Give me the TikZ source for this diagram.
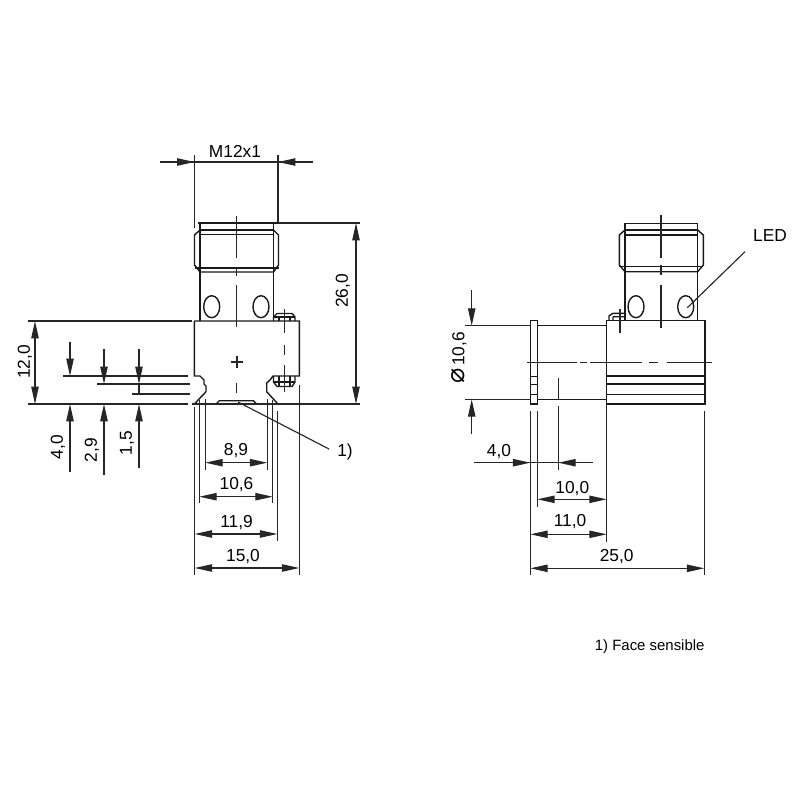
\documentclass[tikz,border=0pt]{standalone}
\usepackage{fontspec}
\setmainfont{Liberation Sans}
\newfontfamily\symfont{DejaVu Sans}
\usetikzlibrary{arrows.meta}
\tikzset{
  body/.style={line width=1.05pt,draw=black!90},
  thin/.style={line width=0.85pt,draw=black!85},
  dimline/.style={thin,{Triangle[length=13pt,width=5.5pt]}-{Triangle[length=13pt,width=5.5pt]}},
  tip/.style={thin,-{Triangle[length=13pt,width=5.5pt]}},
  lbl/.style={inner sep=0pt,text=black,font=\fontsize{13}{15}\selectfont},
}

\begin{document}
\begin{tikzpicture}[x=0.75pt,y=-0.75pt]
\useasboundingbox (0,0) rectangle (800,800);

% left view
\draw[body] (198,223) -- (278,223);
\draw[body] (200,223) -- (200,230) (273.5,223) -- (273.5,230);
\draw[body] (200,230) -- (273.5,230) (200,234.5) -- (273.5,234.5);
\draw[body] (200,230) -- (194.5,235) -- (194.5,265) -- (200,272) -- (273.5,272) -- (278.5,265) -- (278.5,235) -- (273.5,230);
\draw[body] (200,230) -- (200,272) (273.5,230) -- (273.5,272);
\draw[body] (194.5,268) -- (278.5,268);
\draw[body] (200,272) -- (200,321) (273.5,272) -- (273.5,321);
\draw[body] (211.7,306.7) ellipse (8 and 11);
\draw[body] (261,306.7) ellipse (8 and 11);
\draw[body] (194.3,321) -- (299.3,321) -- (299.3,376) -- (273,376) -- (270,380) -- (266.7,383) -- (266.7,391.7) -- (277,403) -- (278,404);
\draw[body] (194.3,321) -- (194.3,376) -- (200,376) -- (204,380) -- (204,384) -- (206,386) -- (206,391.7) -- (200,398) -- (194.5,404);
\draw[body] (216,404) -- (219.3,400.7) -- (253.3,400.7) -- (256.7,404);
\draw[body] (273.5,321) -- (273.5,317) -- (277,313.5) -- (292,313.5) -- (295,317) -- (295,321);
\draw[body] (273.5,317) -- (295,317);
\draw[body] (279,317) -- (279,321) (290,317) -- (290,321);
\draw[body] (273.5,376) -- (273.5,382) -- (277,386.5) -- (292,386.5) -- (295,382) -- (295,376);
\draw[body] (273.5,382) -- (295,382);
\draw[body] (279,376) -- (279,386) (290,376) -- (290,386);

% center lines
\draw[thin] (236.7,216) -- (236.7,258) (236.7,268) -- (236.7,276) (236.7,285) -- (236.7,327);
\draw[thin] (236.7,383) -- (236.7,393);
\draw[thin] (231,362) -- (243,362) (237,356) -- (237,368);
\draw[thin] (284.3,309) -- (284.3,333) (284.3,345) -- (284.3,355) (284.3,365) -- (284.3,392);

% extension lines
\draw[thin] (194.5,155) -- (194.5,228) (278,155) -- (278,222);
\draw[thin] (278,223) -- (360,223);
\draw[thin] (28,321) -- (192,321);
\draw[thin] (28,404) -- (188,404) (192,404) -- (360,404);
\draw[thin] (63,376) -- (188,376);
\draw[thin] (97,384) -- (190,384);
\draw[thin] (132,394) -- (190,394);
\draw[thin] (205.3,399) -- (205.3,470) (267.3,399) -- (267.3,470);
\draw[thin] (199.3,400) -- (199.3,503) (272.7,400) -- (272.7,503);
\draw[thin] (194.7,407) -- (194.7,575) (277.3,411) -- (277.3,541);
\draw[thin] (299.3,385) -- (299.3,575);

% dimensions
\draw[tip] (160,162) -- (194.5,162);
\draw[tip] (313,162) -- (278,162);
\draw[thin] (160,162) -- (313,162);
\draw[dimline] (356,223) -- (356,404);
\draw[dimline] (35,321) -- (35,404);
\draw[tip] (70,342) -- (70,376);
\draw[tip] (70,472) -- (70,404);
\draw[tip] (104,349) -- (104,384);
\draw[tip] (104,475) -- (104,404);
\draw[tip] (139,349) -- (139,384);
\draw[thin] (139,384) -- (139,394);
\draw[tip] (139,468) -- (139,404);
\draw[dimline] (205.3,462.7) -- (267.3,462.7);
\draw[dimline] (199.3,496.7) -- (272.7,496.7);
\draw[dimline] (194.7,534) -- (277.3,534);
\draw[dimline] (194.7,568) -- (299.3,568);

\node[lbl] (m12) at (235,151) {M12x1};
\node[lbl,rotate=90] (h26) at (343,291) {26,0};
\node[lbl,rotate=90] (h12) at (25,362) {12,0};
\node[lbl,rotate=90] (h40) at (58,447) {4,0};
\node[lbl,rotate=90] (h29) at (92,450) {2,9};
\node[lbl,rotate=90] (h15) at (127,443) {1,5};
\node[lbl] (w89) at (236,451) {8,9};
\node[lbl] (w106) at (236.5,485) {10,6};
\node[lbl] (w119) at (236.5,522.7) {11,9};
\node[lbl] (w150) at (243,556.7) {15,0};
\node[lbl] (face) at (345,452) {1)};
\coordinate (facefrom) at (329,449);
\coordinate (faceto) at (238,402);
\draw[thin] (facefrom) -- (faceto);

% right view
\draw[body] (625,223.3) -- (697.7,223.3);
\draw[body] (625,223.3) -- (625,230) (697.7,223.3) -- (697.7,230);
\draw[body] (625,230) -- (697.7,230) (625,235) -- (697.7,235);
\draw[body] (625,230) -- (619.3,235) -- (619.3,265) -- (625,271.7) -- (697.7,271.7) -- (703.3,265) -- (703.3,235) -- (697.7,230);
\draw[body] (625,230) -- (625,271.7) (697.7,230) -- (697.7,271.7);
\draw[body] (619.3,266.7) -- (703.3,266.7);
\draw[body] (625,271.7) -- (625,321) (697.7,271.7) -- (697.7,321);
\draw[body] (636,306.7) ellipse (8 and 11);
\draw[body] (685.7,306.7) ellipse (8 and 11);
\draw[body] (606.7,320.7) rectangle (705,404);
\draw[body] (606.7,376) -- (705,376) (606.7,384) -- (705,384) (606.7,394.3) -- (705,394.3);
\draw[body] (530.7,320.7) rectangle (537.7,404);
\draw[body] (530.7,376.7) -- (537.7,376.7) (530.7,384.3) -- (537.7,384.3) (530.7,394.3) -- (537.7,394.3);
\draw[body] (537.7,325.7) -- (606.7,325.7) (537.7,399.3) -- (606.7,399.3);
\draw[body] (609,320.7) -- (609,316) -- (613,313.3) -- (625,313.3) (613,316.7) -- (625,316.7) (613,316.7) -- (613,320.7);

% center lines
\draw[thin] (661,215) -- (661,257.7) (661,265) -- (661,275) (661,285) -- (661,327.7);
\draw[thin] (527,362.3) -- (577,362.3) (580,362.3) -- (587,362.3) (590,362.3) -- (642,362.3) (649,362.3) -- (658,362.3) (667,362.3) -- (711.7,362.3);
\draw[thin] (620,309) -- (620,332.7);
\draw[thin] (558.3,378) -- (558.3,399);

% extension lines
\draw[thin] (465,325.7) -- (530.7,325.7) (465,399.3) -- (530.7,399.3);
\draw[thin] (530.3,411) -- (530.3,575);
\draw[thin] (537.3,411) -- (537.3,506.7);
\draw[thin] (558.3,406) -- (558.3,470);
\draw[thin] (606.7,405) -- (606.7,541.7);
\draw[thin] (704.3,411) -- (704.3,575);

% dimensions
\draw[tip] (471.7,290) -- (471.7,325.7);
\draw[tip] (471.7,434) -- (471.7,399.3);
\draw[thin] (593.3,462.7) -- (474.3,462.7);
\draw[tip] (500,462.7) -- (530.3,462.7);
\draw[tip] (590,462.7) -- (558.3,462.7);
\draw[dimline] (537.3,499.3) -- (606.7,499.3);
\draw[dimline] (530.3,534.3) -- (606.7,534.3);
\draw[dimline] (530.3,568.3) -- (704.3,568.3);

\node[lbl,rotate=90] (dia) at (459,358) {{\symfont\fontsize{19}{19}\selectfont ⌀}\,10,6};
\node[lbl] (w40) at (499,451.7) {4,0};
\node[lbl] (w100) at (572.3,488.3) {10,0};
\node[lbl] (w110) at (570,522) {11,0};
\node[lbl] (w250) at (616.7,556.7) {25,0};
\node[lbl] (led) at (770,235.5) {LED};
\coordinate (ledfrom) at (745,251.7);
\coordinate (ledto) at (687.3,307.7);
\draw[thin] (ledfrom) -- (ledto);

\node[inner sep=0pt,text=black,font=\fontsize{11.2}{13}\selectfont] (note) at (649.7,646.7) {1) Face sensible};
\end{tikzpicture}
\end{document}
